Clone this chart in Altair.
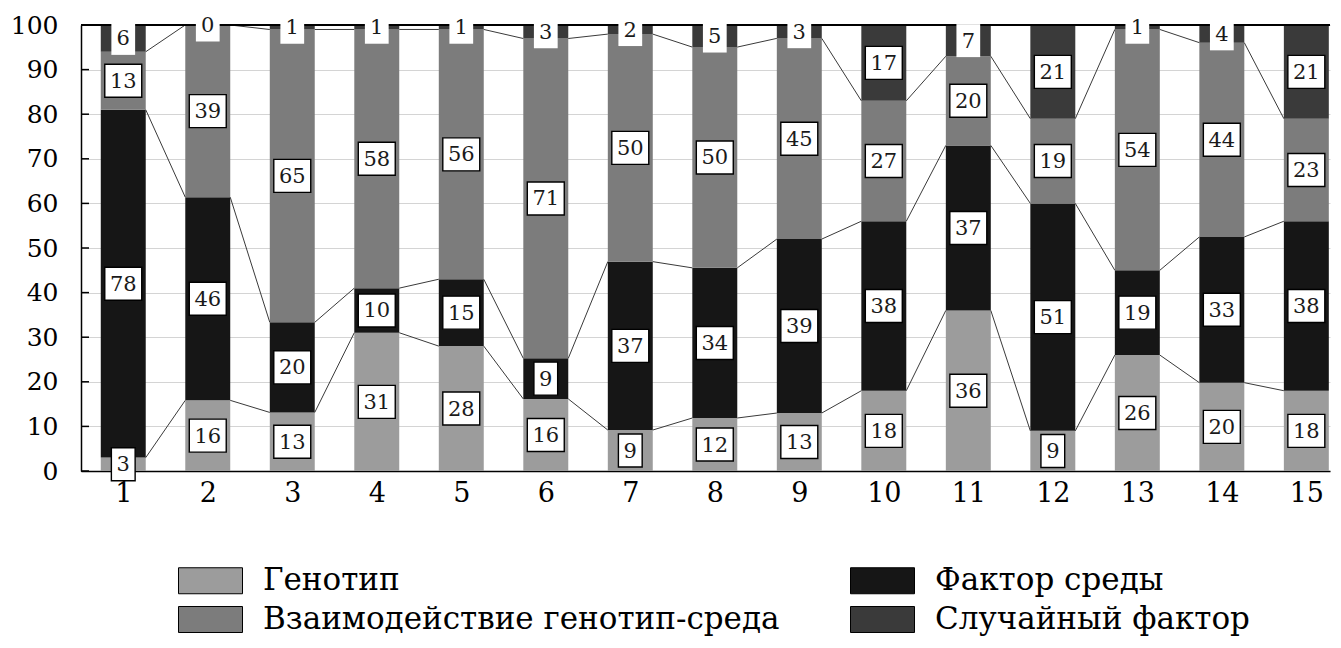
import altair as alt
import pandas as pd

categories = list(range(1, 16))
series_names = ["Генотип", "Фактор среды", "Взаимодействие генотип-среда", "Случайный фактор"]
genotype = [3, 16, 13, 31, 28, 16, 9, 12, 13, 18, 36, 9, 26, 20, 18]
environment = [78, 46, 20, 10, 15, 9, 37, 34, 39, 38, 37, 51, 19, 33, 38]
interaction = [13, 39, 65, 58, 56, 71, 50, 50, 45, 27, 20, 19, 54, 44, 23]
random_factor = [6, 0, 1, 1, 1, 3, 2, 5, 3, 17, 7, 21, 1, 4, 21]
y_ticks = list(range(0, 101, 10))

series_colors = {"Генотип": "#9c9c9c", "Фактор среды": "#161616",
                 "Взаимодействие генотип-среда": "#7c7c7c", "Случайный фактор": "#3a3a3a"}
legend_order = ["Генотип", "Взаимодействие генотип-среда", "Фактор среды", "Случайный фактор"]
FONT = "DejaVu Serif"
HALF = 0.266  # half bar width in category units

rows = []
for k, (name, vals) in enumerate(zip(series_names, [genotype, environment, interaction, random_factor])):
    for c, v in zip(categories, vals):
        rows.append({"cat": c, "series": name, "order": k, "value": v,
                     "digits": "2" if v >= 10 else "1"})
df = pd.DataFrame(rows)

xscale = alt.Scale(domain=[0.5, 15.28], nice=False, zero=False)
yscale = alt.Scale(domain=[0, 100], nice=False)

base = (
    alt.Chart(df)
    .transform_stack(stack="value", groupby=["cat"], as_=["s0", "s1"],
                     sort=[alt.SortField("order", order="ascending")], offset="normalize")
    .transform_calculate(
        y0="datum.s0*100", y1="datum.s1*100",
        mid="(datum.s0+datum.s1)*50",
        xl=f"datum.cat-{HALF}", xr=f"datum.cat+{HALF}",
    )
)

bars = base.mark_bar().encode(
    x=alt.X("xl:Q", scale=xscale,
            axis=alt.Axis(values=categories, format="d", title=None, grid=False, tickSize=0,
                          labelFont=FONT, labelFontSize=27, labelColor="black", labelPadding=9,
                          domainColor="black", domainWidth=1.5)),
    x2="xr:Q",
    y=alt.Y("y0:Q", scale=yscale,
            axis=alt.Axis(values=y_ticks, title=None, tickSize=0, labelFont=FONT, labelFontSize=25,
                          labelColor="black", labelPadding=23, domainColor="black", domainWidth=1.5,
                          gridColor="#d4d4d4", gridWidth=1)),
    y2="y1:Q",
    color=alt.Color("series:N",
                    scale=alt.Scale(domain=legend_order,
                                    range=[series_colors[s] for s in legend_order]),
                    legend=alt.Legend(title=None, orient="none", legendX=109, legendY=535, columns=2,
                                      symbolType="M-1.6,-0.65H1.6V0.65H-1.6Z", symbolSize=1600,
                                      symbolStrokeColor="black", symbolStrokeWidth=1,
                                      labelFont=FONT, labelFontSize=31, labelColor="black",
                                      labelOffset=32, rowPadding=3, columnPadding=68,
                                      labelLimit=800)),
)

series_lines = (
    base.transform_filter("datum.order < 3")
    .transform_window(ny="lead(y1)", nx="lead(xl)", groupby=["series"],
                      sort=[alt.SortField("cat", order="ascending")])
    .transform_filter("datum.ny != null")
    .mark_rule(color="#3a3a3a", strokeWidth=1)
    .encode(x=alt.X("xr:Q", scale=xscale), x2="nx:Q",
            y=alt.Y("y1:Q", scale=yscale), y2="ny:Q")
)

boxes = base.mark_point(filled=True, color="white", stroke="black", strokeWidth=1.4, opacity=1).encode(
    x=alt.X("cat:Q", scale=xscale),
    y=alt.Y("mid:Q", scale=yscale),
    shape=alt.Shape("digits:N", scale=alt.Scale(domain=["1", "2"],
                    range=["M-0.72,-1H0.72V1H-0.72Z", "M-1.12,-1H1.12V1H-1.12Z"]), legend=None),
    size=alt.value(1089),
    strokeOpacity=alt.condition("datum.order == 3 && datum.value < 10", alt.value(0), alt.value(1)),
)

texts = base.mark_text(font=FONT, fontSize=21, color="#1a1a1a", baseline="middle", dy=1).encode(
    x=alt.X("cat:Q", scale=xscale),
    y=alt.Y("mid:Q", scale=yscale),
    text=alt.Text("value:Q", format="d"),
)

tick_df = pd.DataFrame({"t": y_ticks})
ticks = alt.Chart(tick_df).mark_rule(color="black", strokeWidth=1.5).encode(
    y=alt.Y("t:Q", scale=yscale), x=alt.value(0), x2=alt.value(8)
)
top_line = alt.Chart(tick_df).mark_rule(color="black", strokeWidth=1.5).encode(
    y=alt.datum(100), x=alt.value(0), x2=alt.value(1249)
)

chart = (
    alt.layer(bars, series_lines, top_line, ticks, boxes, texts)
    .properties(width=1249, height=446,
                autosize=alt.AutoSizeParams(type="none"),
                padding={"left": 73, "top": 17, "right": 3, "bottom": 169})
    .configure_view(stroke=None)
)

chart.save("out.html", embed_options={"renderer": "svg", "actions": False})
